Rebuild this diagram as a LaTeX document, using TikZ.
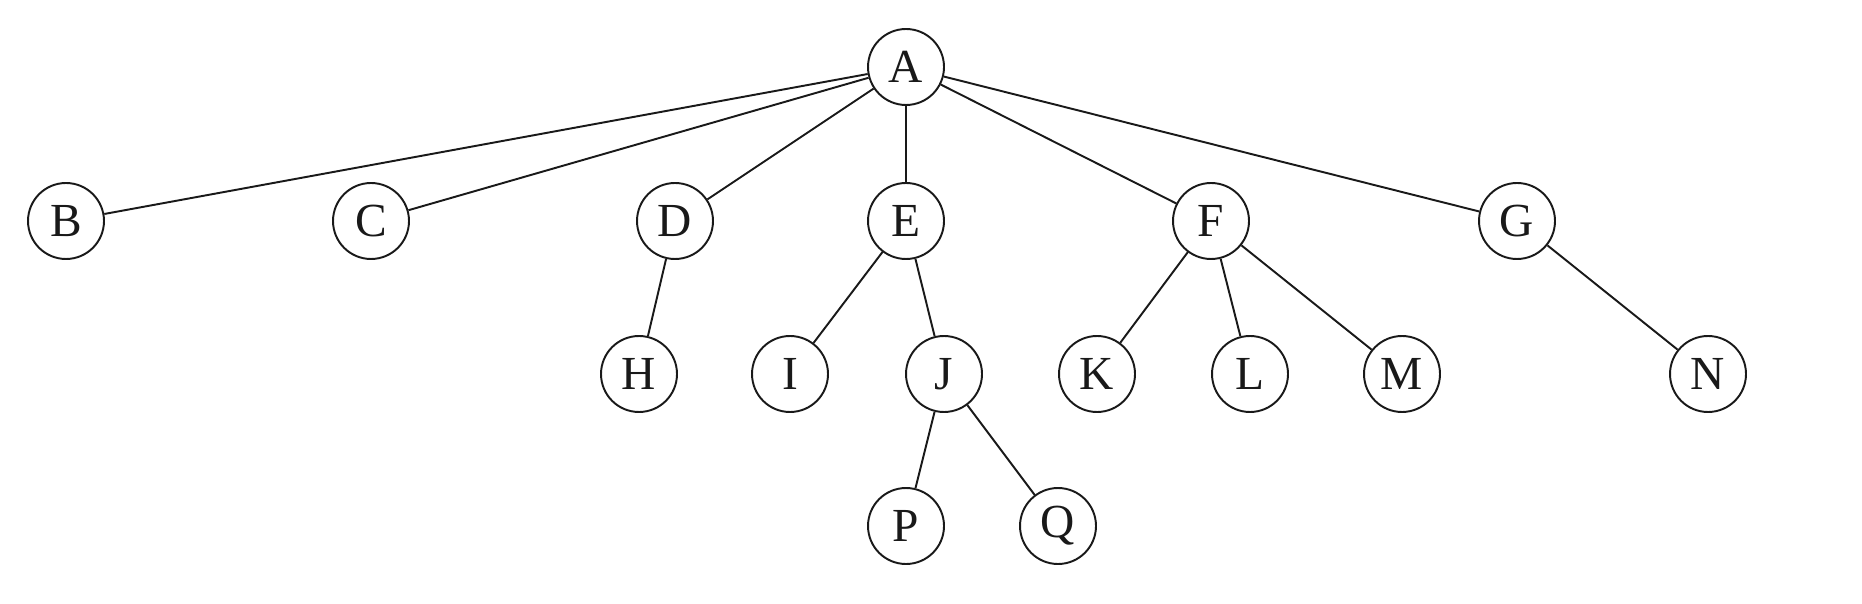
\documentclass[tikz,border=0pt]{standalone}
\usepackage{fontspec}
\setmainfont{Liberation Serif}
\begin{document}
\begin{tikzpicture}[x=0.02cm,y=-0.02cm,
  tnode/.style={circle,draw=black!90,line width=1.1pt,minimum size=1.52cm,inner sep=0pt,
    font=\fontsize{27}{30}\selectfont,text=black!90},
  edge/.style={line width=1.1pt,draw=black!90}]
\useasboundingbox (0,0) rectangle (1862,604);
\node[tnode] (A) at (906,67) {A};
\node[tnode] (B) at (66,221) {B};
\node[tnode] (C) at (371,221) {C};
\node[tnode] (D) at (675,221) {D};
\node[tnode] (E) at (906,221) {E};
\node[tnode] (F) at (1211,221) {F};
\node[tnode] (G) at (1517,221) {G};
\node[tnode] (H) at (639,374) {H};
\node[tnode] (I) at (790,374) {I};
\node[tnode] (J) at (944,374) {J};
\node[tnode] (K) at (1097,374) {K};
\node[tnode] (L) at (1250,374) {L};
\node[tnode] (M) at (1402,374) {M};
\node[tnode] (N) at (1708,374) {N};
\node[tnode] (P) at (906,526) {P};
\node[tnode] (Q) at (1058,526) {Q};
\foreach \a/\b in {A/B,A/C,A/D,A/E,A/F,A/G,D/H,E/I,E/J,F/K,F/L,F/M,G/N,J/P,J/Q}
  \draw[edge] (\a) -- (\b);
\end{tikzpicture}
\end{document}
